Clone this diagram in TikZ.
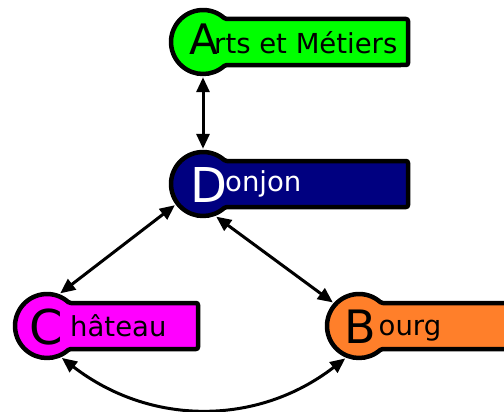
\documentclass[tikz,border=0pt]{standalone}
\usepackage{fontspec}
\setmainfont{DejaVu Sans}
\usetikzlibrary{arrows.meta}

\definecolor{amgreen}{HTML}{00FF00}
\definecolor{donjonblue}{HTML}{000080}
\definecolor{chateaupink}{HTML}{FF00FF}
\definecolor{bourgorange}{HTML}{FF7F2A}

% Round badge with a tab on its right: circle of radius 32 centred at (#1,#2),
% tab reaching x = #3, filled with #4; small fillets where they meet.
\newcommand\badgetab[4]{%
  \begin{scope}[shift={(#1,#2)}]
    \path[draw=black, line width=4.5pt, line join=round, fill=#4]
      (23.81,-23) arc[start angle=90, end angle=131.3, radius=4]
      arc[start angle=-48.6, end angle=-311.4, radius=32]
      arc[start angle=-131.3, end angle=-90, radius=4]
      [rounded corners=2pt] -- (#3-#1,23) -- (#3-#1,-23) [sharp corners] -- cycle;
  \end{scope}}

\tikzset{
  hub/.style={circle, minimum size=70pt, inner sep=0pt},
  initial/.style={anchor=base, inner sep=0pt, font=\fontsize{#1}{#1}\selectfont},
  rest/.style={anchor=base west, inner sep=0pt, font=\fontsize{27.5}{28}\selectfont},
  link/.style={line width=3pt, {Triangle[length=15pt,width=13pt]}-{Triangle[length=15pt,width=13pt]}},
}

\begin{document}
\begin{tikzpicture}[x=1pt, y=-1pt]
  \useasboundingbox (0,0) rectangle (504,412);
  \clip (0,0) rectangle (504,412);

  % badges
  \badgetab{203}{42}{408}{amgreen}
  \badgetab{203}{184}{408}{donjonblue}
  \badgetab{47}{326}{198}{chateaupink}
  \badgetab{359}{326}{540}{bourgorange}

  \node[hub] (A) at (203,42) {};
  \node[hub] (D) at (203,184) {};
  \node[hub] (C) at (47,326) {};
  \node[hub] (B) at (359,326) {};

  % labels
  \node[initial=42] (A-i) at (204,54.5) {A};
  \node[rest] (A-r) at (214,53.3) {rts et Métiers};
  \node[initial=48, text=white] (D-i) at (208.5,202) {D};
  \node[rest, text=white] (D-r) at (225,191.5) {onjon};
  \node[initial=48] (C-i) at (46,344) {C};
  \node[rest] (C-r) at (70,336.5) {hâteau};
  \node[initial=46] (B-i) at (360,343) {B};
  \node[rest] (B-r) at (378.5,335.5) {ourg};

  % connections
  \draw[link] (A.south) -- (D.north);
  \draw[link] (D.217) -- (C.68);
  \draw[link] (D.-68) -- (B.138);
  \draw[link] (C.-65) .. controls +(88,68) and +(-88,68) .. (B.-113);
\end{tikzpicture}
\end{document}
